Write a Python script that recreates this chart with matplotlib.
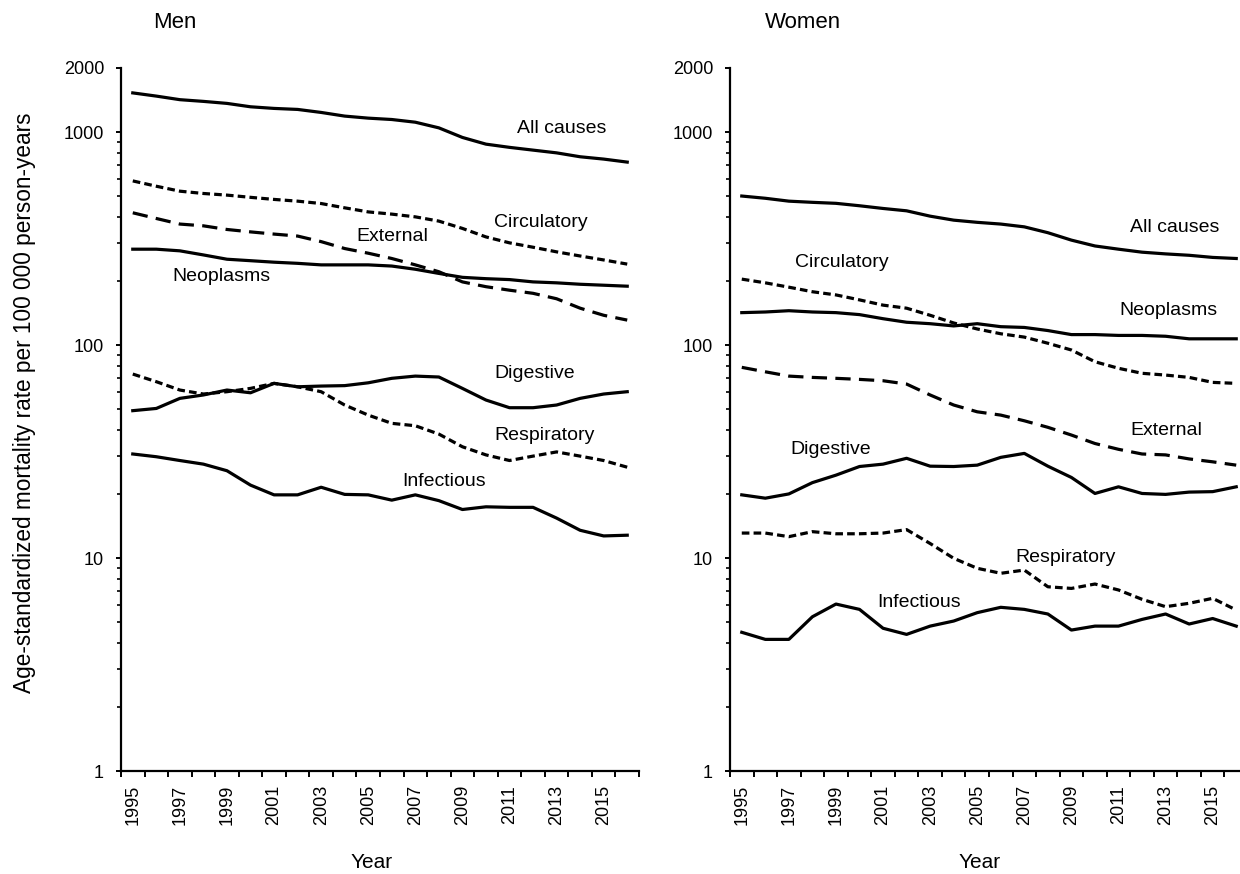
import matplotlib
matplotlib.use('Agg')
import matplotlib.pyplot as plt
import numpy as np
from matplotlib.ticker import FixedLocator, NullFormatter, FixedFormatter

plt.rcParams['font.family'] = ['Liberation Sans', 'DejaVu Sans']
plt.rcParams['lines.scale_dashes'] = False

years = list(range(1995, 2017))

# Men
men_all = [1528, 1476, 1420, 1394, 1364, 1315, 1292, 1278, 1237, 1189, 1163,
           1146, 1113, 1047, 944, 878, 848, 823, 799, 766, 747, 723]
men_circ = [590, 557, 528, 515, 506, 494, 483, 474, 462, 441, 422,
            412, 400, 382, 353, 322, 302, 288, 274, 262, 251, 240]
men_ext = [418, 393, 370, 363, 349, 340, 332, 325, 306, 284, 270,
           255, 238, 221, 198, 188, 181, 175, 165, 149, 138, 131]
men_neo = [282, 282, 277, 265, 253, 249, 245, 242, 238, 238, 238,
           235, 227, 217, 208, 205, 203, 198, 196, 193, 191, 189]
men_dig = [49.2, 50.4, 56.2, 58.3, 61.5, 59.7, 66.1, 63.7, 64.2, 64.5, 66.5,
           69.8, 71.5, 70.8, 62.6, 55.2, 50.8, 50.8, 52.3, 56.2, 58.9, 60.4]
men_resp = [73.1, 67.3, 61.5, 58.9, 60.4, 62.6, 66.1, 63.7, 60.4, 52.3, 46.9,
            42.9, 41.8, 38.2, 33.3, 30.5, 28.7, 30.1, 31.5, 30.1, 28.7, 26.7]
men_inf = [30.8, 29.9, 28.7, 27.6, 25.7, 22.0, 19.8, 19.8, 21.5, 19.9, 19.8,
           18.7, 19.8, 18.6, 16.9, 17.4, 17.3, 17.3, 15.4, 13.5, 12.7, 12.8]

# Women
wom_all = [501, 489, 474, 468, 463, 451, 438, 427, 403, 386, 377,
           370, 359, 337, 311, 292, 282, 273, 268, 264, 258, 255]
wom_circ = [204, 196, 187, 178, 172, 163, 154, 149, 138, 127, 119,
            113, 109, 102, 94.8, 83.5, 77.8, 73.7, 72.3, 70.5, 66.8, 66.1]
wom_neo = [142, 143, 145, 143, 142, 139, 133, 128, 126, 123, 126,
           122, 121, 117, 112, 112, 111, 111, 110, 107, 107, 107]
wom_ext = [78.6, 74.9, 71.5, 70.5, 69.8, 69.0, 68.0, 65.6, 58.3, 52.3, 48.6,
           46.9, 44.1, 41.1, 37.8, 34.5, 32.4, 30.8, 30.5, 29.2, 28.3, 27.3]
wom_dig = [19.8, 19.1, 20.0, 22.6, 24.5, 26.9, 27.6, 29.4, 27.0, 26.9, 27.3,
           29.7, 31.0, 27.0, 23.9, 20.1, 21.6, 20.1, 19.9, 20.4, 20.5, 21.6]
wom_resp = [13.1, 13.1, 12.6, 13.3, 13.0, 13.0, 13.1, 13.6, 11.7, 9.97, 8.95,
            8.48, 8.78, 7.33, 7.20, 7.55, 7.08, 6.40, 5.91, 6.13, 6.47, 5.70]
wom_inf = [4.48, 4.15, 4.15, 5.30, 6.08, 5.74, 4.68, 4.38, 4.79, 5.06, 5.54,
           5.87, 5.74, 5.46, 4.59, 4.79, 4.79, 5.15, 5.46, 4.90, 5.20, 4.79]

cause_names = ["All causes", "Circulatory", "External", "Neoplasms",
               "Digestive", "Respiratory", "Infectious"]

SOLID = '-'
SHORT = (0, (5.5, 3.0))
LONG = (0, (11.0, 6.0))

men_series = [
    (men_all, SOLID), (men_circ, SHORT), (men_ext, LONG), (men_neo, SOLID),
    (men_dig, SOLID), (men_resp, SHORT), (men_inf, SOLID)]
wom_series = [
    (wom_all, SOLID), (wom_circ, SHORT), (wom_ext, LONG), (wom_neo, SOLID),
    (wom_dig, SOLID), (wom_resp, SHORT), (wom_inf, SOLID)]

# label positions (category index, value)
men_label_pos = [(16.32, 1045), (15.34, 378), (9.48, 325), (1.67, 211),
                 (15.34, 73.9), (15.34, 37.8), (11.43, 23.0)]
wom_label_pos = [(16.49, 358), (2.27, 245), (16.49, 39.9), (16.02, 145),
                 (2.06, 32.2), (11.60, 10.1), (5.74, 6.15)]

W, H = 1240, 874
fig = plt.figure(figsize=(W / 100, H / 100), dpi=100)

def make_axes(x0px):
    ax = fig.add_axes([x0px / W, (H - 771) / H, 518 / W, (771 - 68) / H])
    return ax

x = np.arange(len(years))

def style(ax, series, label_pos):
    for (vals, ls), name, (lx, ly) in zip(series, cause_names, label_pos):
        ax.plot(x, vals, color='black', lw=2.3, linestyle=ls,
                solid_joinstyle='round', dash_capstyle='butt')
        ax.text(lx, ly, name, fontsize=14, ha='left', va='center')
    ax.set_yscale('log')
    ax.set_ylim(1, 2000)
    ax.set_xlim(-0.5, len(years) - 0.5)
    for s in ['top', 'right']:
        ax.spines[s].set_visible(False)
    for s in ['left', 'bottom']:
        ax.spines[s].set_linewidth(1.6)
    ax.yaxis.set_major_locator(FixedLocator([1, 10, 100, 1000, 2000]))
    ax.yaxis.set_major_formatter(FixedFormatter(['1', '10', '100', '1000', '2000']))
    minors = [m * 10 ** k for k in range(0, 3) for m in range(2, 10)]
    ax.yaxis.set_minor_locator(FixedLocator(minors))
    ax.yaxis.set_minor_formatter(NullFormatter())
    ax.tick_params(axis='y', which='major', length=3.5, width=1.4,
                   labelsize=13, pad=8.7, direction='out')
    ax.tick_params(axis='y', which='minor', length=2.6, width=1.2,
                   direction='out')
    # x: ticks at category boundaries, labels at centres
    ax.xaxis.set_major_locator(FixedLocator(np.arange(-0.5, len(years), 1.0)))
    ax.xaxis.set_major_formatter(NullFormatter())
    ax.xaxis.set_minor_locator(FixedLocator(x[::2]))
    ax.xaxis.set_minor_formatter(FixedFormatter([str(y) for y in years[::2]]))
    ax.tick_params(axis='x', which='major', length=4, width=1.4, direction='out')
    ax.tick_params(axis='x', which='minor', length=0, labelsize=13,
                   labelrotation=90, pad=10)

ax1 = make_axes(121)
style(ax1, men_series, men_label_pos)
ax2 = make_axes(730)
style(ax2, wom_series, wom_label_pos)

fig.text(153 / W, 1 - 22 / H, "Men", fontsize=16, ha='left', va='center')
fig.text(765 / W, 1 - 22 / H, "Women", fontsize=16, ha='left', va='center')
fig.text(372 / W, 1 - 862 / H, "Year", fontsize=15, ha='center', va='center')
fig.text(980 / W, 1 - 862 / H, "Year", fontsize=15, ha='center', va='center')
fig.text(25 / W, 1 - 403 / H,
         "Age-standardized mortality rate per 100 000 person-years",
         fontsize=16.3, rotation=90, ha='center', va='center')

fig.savefig('out.png', dpi=100)
